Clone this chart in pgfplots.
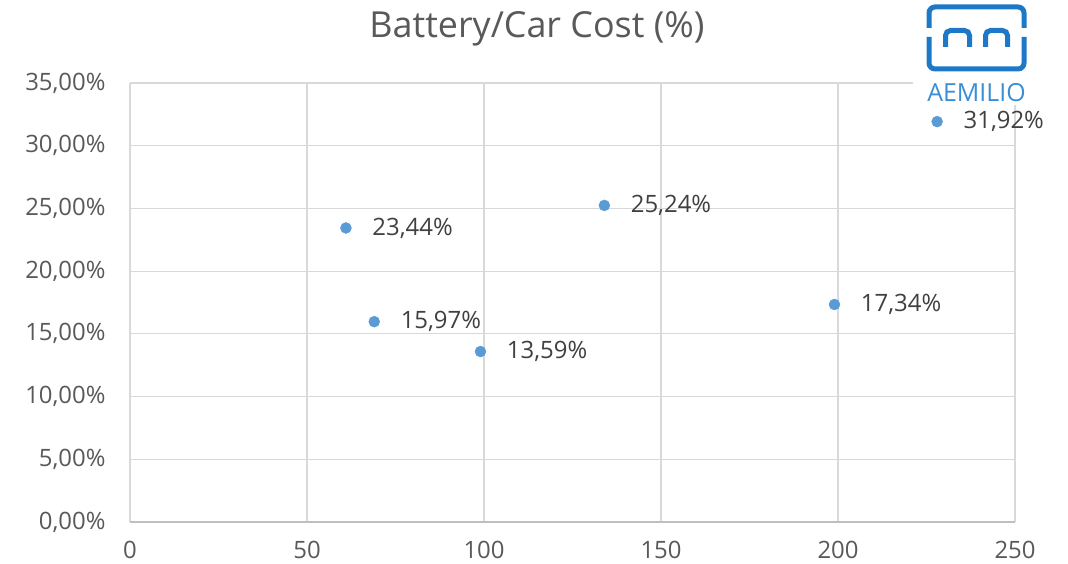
\documentclass[border=0pt]{standalone}
\usepackage{pgfplots}
\pgfplotsset{compat=1.18}
\usepackage{fontspec}
\setmainfont{Open Sans}
\newfontfamily\logofont{Open Sans}
\definecolor{markblue}{HTML}{5B9BD5}
\definecolor{gridgray}{HTML}{D9D9D9}
\definecolor{axisgray}{HTML}{BFBFBF}
\definecolor{ticktext}{HTML}{595959}
\definecolor{labeltext}{HTML}{404040}
\definecolor{logoblue}{HTML}{1E78C8}
\definecolor{logotext}{HTML}{3A8ED6}
\begin{document}
\begin{tikzpicture}[x=1bp,y=1bp]
\useasboundingbox[fill=white] (0,0) rectangle (1068,564);
\begin{axis}[
  at={(130bp,42bp)}, anchor=south west,
  scale only axis, width=885bp, height=439bp,
  xmin=0, xmax=250, ymin=0, ymax=35,
  xtick={0,50,100,150,200,250},
  xticklabels={0,50,100,150,200,250},
  ytick={0,5,10,15,20,25,30,35},
  yticklabels={{0,00\%},{5,00\%},{10,00\%},{15,00\%},{20,00\%},{25,00\%},{30,00\%},{35,00\%}},
  grid=major,
  major grid style={gridgray, line width=1.2bp},
  axis line style={draw=none},
  major tick length=0pt,
  tick label style={font=\fontsize{24}{28}\selectfont, text=ticktext},
  xticklabel style={yshift=-16bp},
  yticklabel style={xshift=-21bp},
  clip=false,
]
\draw[axisgray, line width=1.4bp] (axis cs:0,0) -- (axis cs:250,0);
\addplot[only marks, mark=*, mark size=5.5bp, mark options={fill=markblue, draw=markblue},
  point meta=explicit symbolic,
  nodes near coords,
  every node near coord/.style={anchor=west, xshift=23bp, yshift=0bp, font=\fontsize{24}{28}\selectfont, text=labeltext}]
  table[meta=label] {
x y label
61 23.44 23,44\%
69 15.97 15,97\%
99 13.59 13,59\%
134 25.24 25,24\%
199 17.34 17,34\%
228 31.92 31,92\%
};
\end{axis}
% title
\node[text=ticktext, font=\fontsize{36}{42}\selectfont] at (537,535) {Battery/Car Cost (\%)};
% logo
\fill[white] (913,459) rectangle (1040,564);
\draw[logoblue, line width=5bp, rounded corners=6bp] (929,536) -- (929,557) -- (1024,557) -- (1024,536);
\draw[logoblue, line width=5bp, rounded corners=6bp] (929,527) -- (929,495) -- (1024,495) -- (1024,527);
\draw[logoblue, line width=5bp, rounded corners=5bp] (945.5,517) -- (945.5,533.5) -- (969.5,533.5) -- (969.5,517);
\draw[logoblue, line width=5bp, rounded corners=5bp] (985.5,517) -- (985.5,533.5) -- (1007.5,533.5) -- (1007.5,517);
\node[text=logotext, font=\logofont\fontsize{25}{28}\selectfont] at (976.5,471) {AEMILIO};
\end{tikzpicture}
\end{document}
